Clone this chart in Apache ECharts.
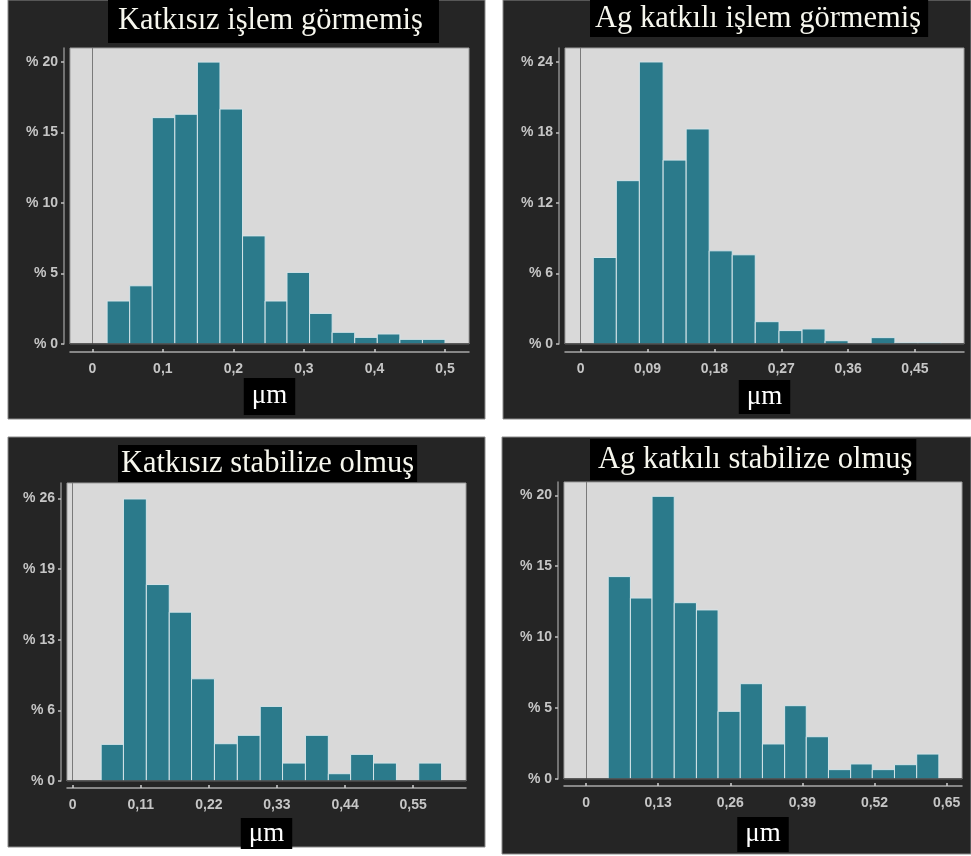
<!DOCTYPE html>
<html>
<head>
<meta charset="utf-8">
<script src="https://cdn.jsdelivr.net/npm/echarts@6/dist/echarts.min.js"></script>
<style>
html,body{margin:0;padding:0;background:#ffffff;}
#chart{width:971px;height:856px;}
</style>
</head>
<body>
<div id="chart"></div>
<script>
// ---- Data ----
const titles = ["Katkısız işlem görmemiş", "Ag katkılı işlem görmemiş", "Katkısız stabilize olmuş", "Ag katkılı stabilize olmuş"];
const xAxisName = "μm";

// bin edges (μm) and percentages per panel
const p1Edges = [0.021,0.053,0.085,0.117,0.149,0.181,0.213,0.245,0.276,0.308,0.340,0.372,0.404,0.436,0.468,0.500];
const p1Pct   = [3.05,4.13,16.06,16.3,20.0,16.67,7.67,3.05,5.08,2.17,0.83,0.47,0.71,0.33,0.33];

const p2Edges = [0.017,0.048,0.079,0.111,0.142,0.173,0.204,0.235,0.267,0.298,0.329,0.360,0.391,0.423,0.454,0.485];
const p2Pct   = [7.36,13.9,24.0,15.65,18.3,7.93,7.59,1.9,1.14,1.28,0.28,0,0.54,0.1,0.1];

const p3Edges = [0.046,0.082,0.119,0.156,0.192,0.229,0.266,0.303,0.339,0.376,0.413,0.449,0.486,0.523,0.559,0.596];
const p3Pct   = [3.37,25.94,18.07,15.53,9.4,3.43,4.2,6.86,1.65,4.2,0.67,2.45,1.65,0,1.65];

const p4Edges = [0.040,0.080,0.119,0.159,0.199,0.238,0.278,0.318,0.358,0.397,0.437,0.477,0.516,0.556,0.596,0.636];
const p4Pct   = [14.27,12.76,19.93,12.43,11.92,4.77,6.72,2.47,5.17,2.98,0.66,1.06,0.66,1.01,1.76];

// tick values
const p1XTicks = [0,0.1,0.2,0.3,0.4,0.5];
const p2XTicks = [0,0.09,0.18,0.27,0.36,0.45];
const p3XTicks = [0,0.11,0.22,0.33,0.44,0.55];
const p4XTicks = [0,0.13,0.26,0.39,0.52,0.65];
const p1YTicks = [0,5,10,15,20];
const p2YTicks = [0,6,12,18,24];
const p3YTicks = [0,6.5,13,19.5,26];
const p4YTicks = [0,5,10,15,20];

// ---- Layout ----
const panels = [
  {edges:p1Edges, pct:p1Pct, xt:p1XTicks, yt:p1YTicks, bg:[8,0,477,419],   tbox:{left:108,top:0,pad:[4,16,5,10]},
   grid:{left:70,top:48,width:399,height:296}, xmin:-0.0316, xmax:0.534, ymax:21.0, xoff:8, gap:26, npad:[2,8,4,8]},
  {edges:p2Edges, pct:p2Pct, xt:p2XTicks, yt:p2YTicks, bg:[503,0,468,419], tbox:{left:590,top:0,pad:[2,7,1,5]},
   grid:{left:565,top:48,width:399,height:296}, xmin:-0.0211, xmax:0.516, ymax:25.19, xoff:8, gap:28, npad:[1,8,2,8]},
  {edges:p3Edges, pct:p3Pct, xt:p3XTicks, yt:p3YTicks, bg:[8,437,477,410], tbox:{left:118,top:445,pad:[2,3,1,3]},
   grid:{left:67,top:483,width:399,height:298}, xmin:-0.0092, xmax:0.6354, ymax:27.41, xoff:7, gap:30, npad:[0,8,0,8]},
  {edges:p4Edges, pct:p4Pct, xt:p4XTicks, yt:p4YTicks, bg:[502,437,469,417], tbox:{left:590,top:439,pad:[4,4,3,8]},
   grid:{left:564,top:482,width:398,height:297}, xmin:-0.0397, xmax:0.6777, ymax:20.94, xoff:7, gap:31, npad:[1,8,3,8]}
];

const fmtX = v => String(v).replace('.', ',');
const labelColor = '#c6c6c6';

const option = {
  animation:false,
  backgroundColor:'#ffffff',
  graphic:{elements: panels.map(p => ({
    type:'rect', z:-10, silent:true,
    shape:{x:p.bg[0], y:p.bg[1], width:p.bg[2], height:p.bg[3]},
    style:{fill:'#252525', stroke:'#8a8a8a', lineWidth:1}
  }))},
  title: panels.map((p,i) => ({
    text:titles[i], left:p.tbox.left, top:p.tbox.top, padding:p.tbox.pad,
    backgroundColor:'#000000',
    textStyle:{fontFamily:'Liberation Serif', fontSize:30.5, fontWeight:'normal', color:'#f7f7ee', lineHeight:34}
  })),
  grid: panels.map(p => ({left:p.grid.left, top:p.grid.top, width:p.grid.width, height:p.grid.height,
    show:true, backgroundColor:'#d9d9d9', borderColor:'#9c9c9c', borderWidth:1, containLabel:false})),
  xAxis: panels.map((p,i) => ({
    type:'value', gridIndex:i, min:p.xmin, max:p.xmax, offset:p.xoff,
    name:xAxisName, nameLocation:'middle', nameGap:p.gap,
    nameTextStyle:{fontFamily:'Liberation Serif', fontSize:27, color:'#ffffff', backgroundColor:'#000000', padding:p.npad, lineHeight:31},
    splitLine:{show:false},
    axisLine:{show:true, onZero:false, lineStyle:{color:'#a8a8a8', width:1.5}},
    axisTick:{show:true, customValues:p.xt, length:3, inside:true, lineStyle:{color:'#d0d0d0', width:1.5}},
    axisLabel:{customValues:p.xt, formatter:fmtX, color:labelColor, fontFamily:'Liberation Sans', fontWeight:'bold', fontSize:14, margin:10}
  })),
  yAxis: panels.map((p,i) => ({
    type:'value', gridIndex:i, min:0, max:p.ymax, offset:6,
    splitLine:{show:false},
    axisLine:{show:true, onZero:false, lineStyle:{color:'#8c8c8c', width:1.5}},
    axisTick:{show:true, customValues:p.yt, length:3, lineStyle:{color:'#c0c0c0', width:1.5}},
    axisLabel:{customValues:p.yt, formatter: v => '% ' + Math.floor(v), color:labelColor, fontFamily:'Liberation Sans', fontWeight:'bold', fontSize:14, margin:6}
  })),
  series: panels.map((p,i) => ({
    type:'custom', xAxisIndex:i, yAxisIndex:i, clip:true,
    data: p.pct.map((v,k) => [p.edges[k], p.edges[k+1], v]),
    encode:{x:[0,1], y:2},
    renderItem: function(params, api){
      const a = api.coord([api.value(0), api.value(2)]);
      const b = api.coord([api.value(1), 0]);
      return {type:'rect', shape:{x:a[0], y:a[1], width:b[0]-a[0], height:b[1]-a[1]},
        style:{fill:'#2b7a8b', stroke:'#d4e4e8', lineWidth:1}};
    },
    markLine:{silent:true, symbol:'none', label:{show:false},
      data:[{xAxis:0, lineStyle:{color:'#7a7a7a', width:1, type:'solid'}},
            {yAxis:0, lineStyle:{color:'#3a3a3a', width:1.5, type:'solid'}}]}
  }))
};

const chart = echarts.init(document.getElementById('chart'), null, {renderer:'canvas'});
chart.setOption(option);
</script>
</body>
</html>
